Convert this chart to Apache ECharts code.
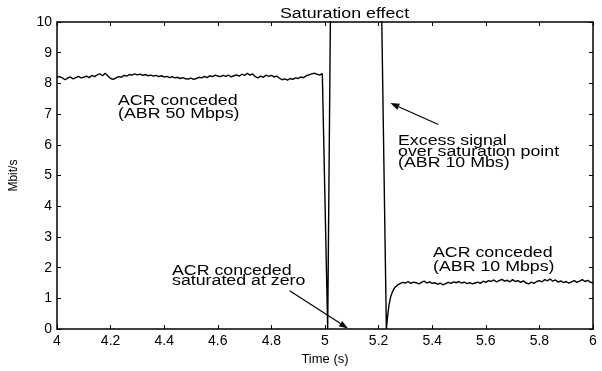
<!DOCTYPE html>
<html>
<head>
<meta charset="utf-8">
<script src="https://cdn.jsdelivr.net/npm/echarts@6/dist/echarts.min.js"></script>
<style>html,body{margin:0;padding:0;background:#fff;}#c{width:602px;height:371px;}</style>
</head>
<body>
<div id="c"></div>
<script>
// ---- data ----
var highStart = 4.00, highStep = 0.01;
var highVals = [
  8.20, 8.22, 8.18, 8.12, 8.17, 8.21, 8.15, 8.19, 8.23, 8.18,
  8.20, 8.24, 8.19, 8.26, 8.22, 8.28, 8.31, 8.25, 8.33, 8.24,
  8.16, 8.13, 8.18, 8.22, 8.20, 8.26, 8.24, 8.29, 8.27, 8.31,
  8.28, 8.30, 8.26, 8.29, 8.25, 8.27, 8.24, 8.26, 8.22, 8.25,
  8.21, 8.23, 8.19, 8.22, 8.18, 8.20, 8.16, 8.19, 8.15, 8.14,
  8.17, 8.13, 8.16, 8.20, 8.18, 8.23, 8.19, 8.25, 8.22, 8.27,
  8.24, 8.22, 8.26, 8.23, 8.27, 8.21, 8.25, 8.28, 8.24, 8.30,
  8.26, 8.33, 8.27, 8.31, 8.22, 8.18, 8.24, 8.20, 8.27, 8.23,
  8.26, 8.21, 8.24, 8.17, 8.12, 8.15, 8.11, 8.16, 8.13, 8.18,
  8.16, 8.21, 8.19, 8.25, 8.28, 8.31, 8.33, 8.30, 8.27, 8.32
];
var transTimes = [5.010, 5.024, 5.205, 5.229, 5.234, 5.239, 5.245, 5.252, 5.260, 5.270];
var transVals  = [0.00, 14.0, 14.0, 0.00, 0.45, 0.80, 1.05, 1.22, 1.35, 1.43];
var lowStart = 5.28, lowStep = 0.01;
var lowVals = [
  1.48, 1.52,
  1.50, 1.55, 1.49, 1.53, 1.51, 1.47, 1.52, 1.56, 1.50, 1.54,
  1.49, 1.51, 1.46, 1.50, 1.44, 1.48, 1.52, 1.49, 1.54, 1.51,
  1.55, 1.50, 1.53, 1.48, 1.51, 1.47, 1.50, 1.53, 1.49, 1.56,
  1.52, 1.58, 1.55, 1.60, 1.54, 1.58, 1.62, 1.56, 1.59, 1.54,
  1.61, 1.55, 1.58, 1.52, 1.57, 1.50, 1.47, 1.53, 1.49, 1.55,
  1.58, 1.54, 1.61, 1.57, 1.63, 1.56, 1.60, 1.53, 1.57, 1.51,
  1.55, 1.50, 1.54, 1.58, 1.52, 1.56, 1.61, 1.55, 1.59, 1.53,
  1.50
];
var xTicksMin = 4, xTicksMax = 6, xTickStep = 0.2;
var yTicksMin = 0, yTicksMax = 10, yTickStep = 1;

// annotation arrows (data coords: from, to)
var arrows = [
  [[4.868, 1.25], [5.086, 0.02]],
  [[5.423, 6.66], [5.244, 7.36]]
];

// ---- build series data ----
var seriesData = [];
highVals.forEach(function (v, i) { seriesData.push([+(highStart + i * highStep).toFixed(3), v]); });
transTimes.forEach(function (t, i) { seriesData.push([t, transVals[i]]); });
lowVals.forEach(function (v, i) { seriesData.push([+(lowStart + i * lowStep).toFixed(3), v]); });

var FONT = '"Liberation Sans", Arial, Helvetica, sans-serif';
var chart = echarts.init(document.getElementById('c'), null, { renderer: 'canvas' });

function xAx(pos, labels) {
  return {
    type: 'value', position: pos, min: xTicksMin, max: xTicksMax, interval: xTickStep,
    axisLine: { show: true, onZero: false, lineStyle: { color: '#000', width: 1.5 } },
    axisTick: { show: true, inside: true, length: 4, lineStyle: { color: '#000', width: 1 } },
    axisLabel: { show: labels, color: '#000', fontFamily: FONT, fontSize: 14, margin: 5 },
    splitLine: { show: false }
  };
}
function yAx(pos, labels) {
  return {
    type: 'value', position: pos, min: yTicksMin, max: yTicksMax, interval: yTickStep,
    axisLine: { show: true, onZero: false, lineStyle: { color: '#000', width: 1.5 } },
    axisTick: { show: true, inside: true, length: 4, lineStyle: { color: '#000', width: 1 } },
    axisLabel: { show: labels, color: '#000', fontFamily: FONT, fontSize: 14, margin: 5 },
    splitLine: { show: false }
  };
}

var xa = xAx('bottom', true);
xa.name = 'Time (s)'; xa.nameLocation = 'middle'; xa.nameGap = 18;
xa.nameTextStyle = { color: '#000', fontFamily: FONT, fontSize: 13 };
var ya = yAx('left', true);
ya.name = 'Mbit/s'; ya.nameLocation = 'middle'; ya.nameGap = 37;
ya.nameTextStyle = { color: '#000', fontFamily: FONT, fontSize: 12 };

var SX = 1.27;
var txt = function (x, y, s, lh) {
  return { type: 'text', x: x, y: y, scaleX: SX, z: 10,
    style: { text: s, font: '14px ' + FONT, fill: '#000', lineHeight: lh, align: 'left', verticalAlign: 'top' } };
};

chart.setOption({
  animation: false,
  backgroundColor: '#fff',
  grid: { left: 57, right: 9, top: 22, bottom: 38 },
  xAxis: [xa, xAx('top', false)],
  yAxis: [ya, yAx('right', false)],
  series: [{
    type: 'line', xAxisIndex: 0, yAxisIndex: 0, data: seriesData,
    showSymbol: false, clip: true,
    lineStyle: { color: '#000', width: 1.4 }
  }]
});

// annotations: arrows located through the axes' scales
var g = [
  txt(280, 7, 'Saturation effect', 14),
  txt(118, 95, 'ACR conceded\n(ABR 50 Mbps)', 13),
  txt(172, 266, 'ACR conceded\nsaturated at zero', 10),
  txt(398, 136, 'Excess signal\nover saturation point\n(ABR 10 Mbs)', 11),
  txt(433, 246, 'ACR conceded\n(ABR 10 Mbps)', 14)
];
arrows.forEach(function (a) {
  var p0 = chart.convertToPixel({ gridIndex: 0 }, a[0]);
  var p1 = chart.convertToPixel({ gridIndex: 0 }, a[1]);
  var dx = p1[0] - p0[0], dy = p1[1] - p0[1], L = Math.sqrt(dx * dx + dy * dy);
  var ux = dx / L, uy = dy / L, hl = 9, hw = 3.2;
  var bx = p1[0] - ux * hl, by = p1[1] - uy * hl;
  g.push({ type: 'line', z: 10, shape: { x1: p0[0], y1: p0[1], x2: bx, y2: by }, style: { stroke: '#000', lineWidth: 1.2 } });
  g.push({ type: 'polygon', z: 10, shape: { points: [[p1[0], p1[1]], [bx - uy * hw, by + ux * hw], [bx + uy * hw, by - ux * hw]] }, style: { fill: '#000' } });
});
chart.setOption({ graphic: g });
</script>
</body>
</html>
